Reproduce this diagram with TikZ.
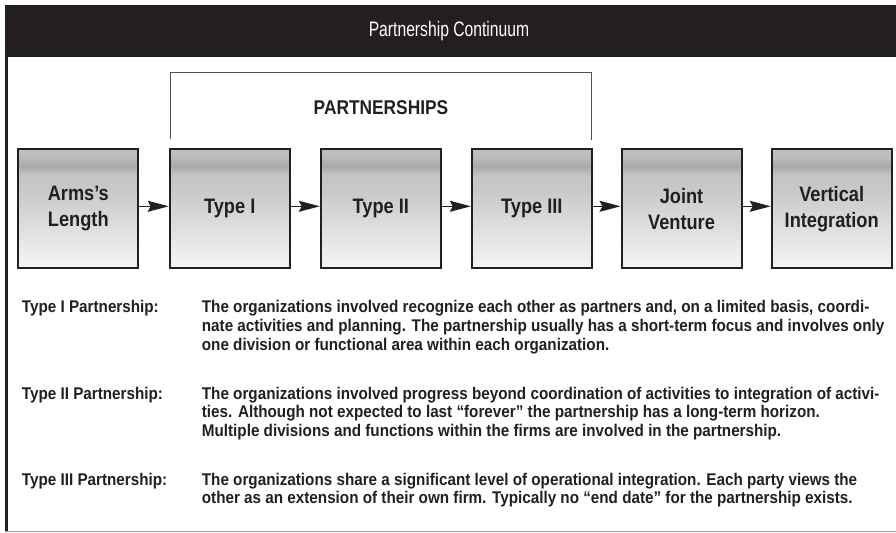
\documentclass[tikz,border=0pt]{standalone}
\usepackage{fontspec}
\setmainfont{Liberation Sans}[FakeStretch=0.9]
\newfontfamily\boxfont{Liberation Sans}[FakeStretch=0.87]
\newfontfamily\headfont{Liberation Sans}[FakeStretch=0.75]
\usetikzlibrary{arrows.meta}

\definecolor{ink}{HTML}{231F20}
\definecolor{rulegray}{HTML}{A0A0A0}
\definecolor{bracketgray}{HTML}{505050}
% brushed-metal tones, bottom to top
\definecolor{shA}{HTML}{F4F4F4}
\definecolor{shB}{HTML}{E8E8E9}
\definecolor{shC}{HTML}{D6D7D8}
\definecolor{shD}{HTML}{C8C9CB}
\definecolor{shE}{HTML}{C4C5C7}
\definecolor{shF}{HTML}{A8A9AB}
\definecolor{shG}{HTML}{BCBDBF}
\definecolor{shH}{HTML}{BEBFC1}

\pgfdeclareverticalshading{brushed}{100bp}{%
  color(0bp)=(shA); color(25bp)=(shA); color(35bp)=(shB);
  color(47.5bp)=(shC); color(57.5bp)=(shD); color(64bp)=(shE);
  color(68bp)=(shF); color(72bp)=(shG); color(75bp)=(shH);
  color(100bp)=(shH)}

\begin{document}
\begin{tikzpicture}[x=1bp,y=-1bp,
  stagebox/.style={draw=ink, line width=2bp, shading=brushed,
    minimum width=120bp, minimum height=119bp, inner sep=0pt,
    align=center, text=ink, font=\fontsize{21}{26}\boxfont\bfseries},
  flow/.style={draw=ink, line width=1bp,
    -{Stealth[length=21bp,width=11bp,inset=3bp]}},
  bracket/.style={draw=bracketgray, line width=1.3bp},
  desc/.style={inner sep=0pt, text=ink,
    font=\fontsize{17}{18.7}\selectfont\bfseries},
]
\useasboundingbox (0,0) rectangle (896,533);

% frame: title bar, left rule, bottom rule
\fill[ink] (5,5) rectangle (896,57);
\fill[ink] (4.5,57) rectangle (7.5,531.5);
\draw[rulegray, line width=1bp] (5,531) -- (896,531);

\node[font=\fontsize{21}{24}\headfont, text=white, anchor=base, inner sep=0pt]
  (title) at (449,36.7) {Partnership Continuum};

% bracket over the three partnership types
\coordinate (brL) at (170.5,139);
\coordinate (brTR) at (591.7,72.5);
\coordinate (brR) at (591.7,140);
\draw[bracket] (brL) |- (brTR) -- (brR);
\node[font=\fontsize{20}{24}\boxfont\bfseries, text=ink, anchor=base, inner sep=0pt]
  (partnerships) at (381,115) {PARTNERSHIPS};

% continuum stages
\node[stagebox] (arms)  at (78.3,208.8)  {Arms’s\\Length};
\node[stagebox] (t1)    at (229.7,208.8) {Type I};
\node[stagebox] (t2)    at (380.8,208.8) {Type II};
\node[stagebox] (t3)    at (531.8,208.8) {Type III};
\node[stagebox] (jv)    at (681.5,208.8) {Joint\\Venture};
\node[stagebox] (vi)    at (831.7,208.8) {Vertical\\Integration};

\foreach \a/\b in {arms/t1, t1/t2, t2/t3, t3/jv, jv/vi}
  \draw[flow] ([yshift=2.5bp]\a.east) -- ([yshift=2.5bp]\b.west);

% definitions
\node[desc, anchor=base west] (lab1) at (21.7,313) {Type I Partnership:};
\node[desc, anchor=base west] (txt1) at (201.7,313) {\parbox[t]{760bp}{\raggedright
  The organizations involved recognize each other as partners and, on a limited basis, coordi-\\
  nate activities and planning. The partnership usually has a short-term focus and involves only\\
  one division or functional area within each organization.}};

\node[desc, anchor=base west] (lab2) at (21.7,399) {Type II Partnership:};
\node[desc, anchor=base west] (txt2) at (201.7,399) {\parbox[t]{760bp}{\raggedright
  The organizations involved progress beyond coordination of activities to integration of activi-\\
  ties. Although not expected to last “forever” the partnership has a long-term horizon.\\
  Multiple divisions and functions within the firms are involved in the partnership.}};

\node[desc, anchor=base west] (lab3) at (21.7,485) {Type III Partnership:};
\node[desc, anchor=base west] (txt3) at (201.7,485) {\parbox[t]{760bp}{\raggedright
  The organizations share a significant level of operational integration. Each party views the\\
  other as an extension of their own firm. Typically no “end date” for the partnership exists.}};
\end{tikzpicture}
\end{document}
